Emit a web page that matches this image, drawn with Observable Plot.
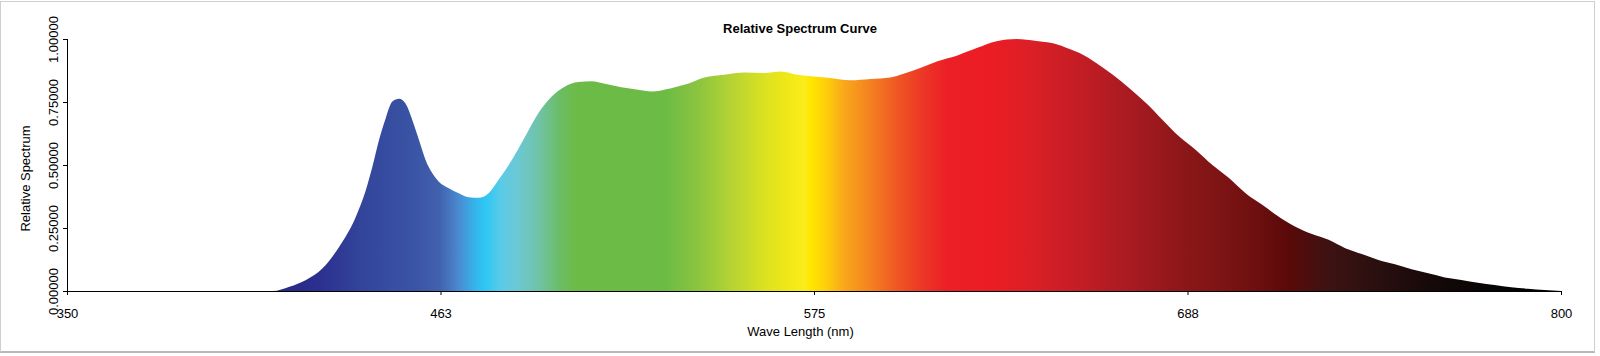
<!DOCTYPE html>
<html><head><meta charset="utf-8">
<script src="https://cdn.jsdelivr.net/npm/d3@7"></script>
<script src="https://cdn.jsdelivr.net/npm/@observablehq/plot@0.6"></script>
<style>
html,body{margin:0;padding:0;background:#fff;}
#wrap{position:relative;width:1600px;height:356px;overflow:hidden;font-family:"Liberation Sans",Arial,sans-serif;}
#title{position:absolute;left:0;top:21px;width:1600px;text-align:center;font-weight:bold;font-size:13px;line-height:15px;color:#000;}
#frame{position:absolute;left:0;top:1px;width:1593px;height:349px;border:1px solid #cfcfcf;border-bottom:2px solid #b8b8b8;pointer-events:none;}
#chart svg{display:block}
</style></head><body>
<div id="wrap"><div id="chart"></div><div id="title">Relative Spectrum Curve</div><div id="frame"></div></div>
<script>
// Wavelength samples (nm) and relative spectrum values
const wavelengths = [350,400,412,417,422,427,432,437,440,442,444,446,448,450,452,454,456,458,460,462,465,468,471,474,477,480,484,488,492,496,500,504,508,512,517,522,526,532,537,542,548,554,560,565,570,575,580,586,592,598,602,607,612,618,624,630,636,642,647,652,655,660,665,670,675,680,685,690,695,700,705,710,715,720,725,730,735,740,745,750,755,760,765,770,775,780,785,790,795,800];
const spectrum = [0,0,0,0.017,0.044,0.09,0.176,0.295,0.40,0.494,0.60,0.686,0.752,0.763,0.743,0.679,0.60,0.52,0.468,0.434,0.408,0.388,0.372,0.370,0.388,0.441,0.52,0.613,0.706,0.772,0.812,0.829,0.832,0.822,0.809,0.799,0.792,0.805,0.822,0.847,0.858,0.867,0.865,0.871,0.858,0.851,0.845,0.836,0.841,0.847,0.862,0.885,0.911,0.934,0.964,0.991,1.0,0.992,0.983,0.96,0.944,0.905,0.858,0.805,0.746,0.679,0.613,0.56,0.50,0.448,0.388,0.342,0.295,0.255,0.226,0.203,0.17,0.147,0.123,0.106,0.086,0.07,0.054,0.044,0.033,0.024,0.015,0.009,0.004,0];

// Axis ticks
const xTicks = [350, 462.5, 575, 687.5, 800];
const xTickLabels = ["350", "463", "575", "688", "800"];
const yTicks = [0, 0.25, 0.5, 0.75, 1];

// Spectral colour ramp (wavelength -> colour)
const gradNm = [350,412,425,440,455,462,468,473,476,481,486,492,498,503,530,540,550,560,567,572,574,578,584,592,600,608,615,628,640,655,670,685,700,710,718,730,745,760,775,790,800];
const gradColors = ["#1a1a70","#262a80","#2b2f8e","#33469c","#3a55a5","#4160ad","#4a8ad0","#35b5ec","#2ec7f4","#5ccbe6","#6cc8d2","#70c3a8","#6cbd6a","#6cbb48","#6cbb45","#8bc43f","#b5d334","#dbe121","#f0e818","#fbec1c","#ffe600","#fed309","#f9a81a","#f48120","#ef5724","#ec3626","#ec1f26","#ec1c24","#dc1f26","#c41d25","#a81b21","#8e1719","#7a1313","#6a0e0f","#5a0909","#3e1212","#2a0f0f","#170909","#0a0505","#020202","#000000"];

const data = wavelengths.map((w, i) => ({nm: w, v: spectrum[i]}));

const chart = Plot.plot({
  width: 1600,
  height: 356,
  marginLeft: 67,
  marginRight: 39,
  marginTop: 39,
  marginBottom: 65,
  style: {fontSize: "13px", fontFamily: "'Liberation Sans', Arial, sans-serif", color: "#000", background: "transparent"},
  x: {domain: [350, 800]},
  y: {domain: [0, 1]},
  marks: [
    Plot.areaY(data, {x: "nm", y: "v", fill: "url(#spec)", curve: "monotone-x"}),
    Plot.ruleY([0], {stroke: "#000"}),
    Plot.ruleX([350], {stroke: "#000"}),
    Plot.axisX({ticks: xTicks, tickFormat: d => xTickLabels[xTicks.indexOf(d)], tickSize: 4, tickPadding: 13, label: null}),
    Plot.axisY({ticks: yTicks, tickFormat: d3.format(".5f"), tickSize: 4, tickPadding: 10, tickRotate: -90, textAnchor: "middle", lineAnchor: "middle", label: null}),
    Plot.text(["Relative Spectrum"], {frameAnchor: "left", rotate: -90, dx: -42, dy: 13, textAnchor: "middle"}),
    Plot.text(["Wave Length (nm)"], {frameAnchor: "bottom", dx: -14, dy: 44})
  ]
});

const xs = chart.scale("x");
const svg = d3.select(chart);
const defs = svg.insert("defs", ":first-child");
const lg = defs.append("linearGradient")
  .attr("id", "spec")
  .attr("gradientUnits", "userSpaceOnUse")
  .attr("x1", xs.apply(350)).attr("x2", xs.apply(800))
  .attr("y1", 0).attr("y2", 0);
gradNm.forEach((nm, i) => lg.append("stop").attr("offset", (nm - 350) / 450).attr("stop-color", gradColors[i]));

document.getElementById("chart").appendChild(chart);
</script>
</body></html>
